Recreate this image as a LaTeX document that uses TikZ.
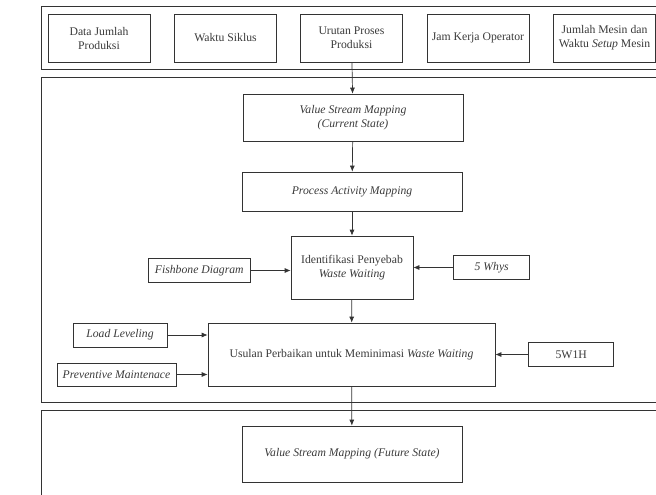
\documentclass[tikz,border=0pt]{standalone}
\usepackage{fontspec}
\setmainfont{Liberation Serif}
\usetikzlibrary{positioning,arrows.meta}
\definecolor{linegray}{HTML}{333333}
\definecolor{textgray}{HTML}{3A3A3A}
\tikzset{
	>={Latex[length=6pt,width=5pt]}
}

\begin{document}
\begin{tikzpicture}[
x = 1pt,
y = -1pt,
every node/.style = {
	font = \fontsize{11.7}{14}\selectfont,
	text = textgray
},
frame/.style = {
	draw = linegray,
	line width = 0.8pt
},
box/.style = {
	draw = linegray,
	line width = 0.7pt,
	align = center,
	inner sep = 0pt
},
input/.style = {
	box,
	minimum width = 102pt,
	minimum height = 48pt
},
side/.style = {
	box,
	minimum height = 24pt
},
flow/.style = {
	->,
	line width = 0.7pt,
	linegray
}
]

\clip (0,0) rectangle (656,495);

% the three stages
\draw[frame] (41,6) rectangle (670,69);
\draw[frame] (41,77) rectangle (670,402);
\draw[frame] (41,410) rectangle (670,520);

% input data
\node [input] (prod) at (99,38) {Data Jumlah\\Produksi};
\node [input] (siklus) at (225.5,38) {Waktu Siklus};
\node [input] (urutan) at (351.5,38) {Urutan Proses\\Produksi};
\node [input] (jam) at (478,38) {Jam Kerja Operator};
\node [input] (mesin) at (604.5,38) {Jumlah Mesin dan\\Waktu \textit{Setup} Mesin};

% processing
\node [box, minimum width = 220pt, minimum height = 47pt] (vsmcur) at (353,117.5) {\textit{Value Stream Mapping}\\\textit{(Current State)}};
\node [box, minimum width = 220pt, minimum height = 39pt] (pam) at (352,191.5) {\textit{Process Activity Mapping}};
\node [box, minimum width = 122pt, minimum height = 63pt] (ident) at (352,267.5) {Identifikasi Penyebab\\\textit{Waste Waiting}};
\node [box, minimum width = 287pt, minimum height = 63pt] (usulan) at (351.5,354.5) {Usulan Perbaikan untuk Meminimasi \textit{Waste Waiting}};

\node [side, minimum width = 102pt, left = 40pt of ident.west, yshift = -3pt] (fish) {\textit{Fishbone Diagram}};
\node [side, minimum width = 76pt, right = 40pt of ident.east] (whys) {\textit{5 Whys}};

\node [side, minimum width = 94pt] (load) at (120,335) {\textit{Load Leveling}};
\node [side, minimum width = 119pt, minimum height = 23pt] (pm) at (116.5,374.5) {\textit{Preventive Maintenace}};
\node [side, minimum width = 85pt, right = 33pt of usulan.east] (wh) {5W1H};

% result
\node [box, minimum width = 220pt, minimum height = 56pt] (vsmfut) at (352,454) {\textit{Value Stream Mapping (Future State)}};

\draw[flow] (urutan) -- (vsmcur);
\draw[flow] (vsmcur) -- (pam);
\draw[flow] (pam) -- (ident);
\draw[flow] (fish) -- (fish -| ident.west);
\draw[flow] (whys) -- (ident);
\draw[flow] (ident) -- (usulan);
\draw[flow] (load) -- (load -| usulan.west);
\draw[flow] (pm) -- (pm -| usulan.west);
\draw[flow] (wh) -- (usulan);
\draw[flow] (usulan) -- (vsmfut);

\end{tikzpicture}
\end{document}
